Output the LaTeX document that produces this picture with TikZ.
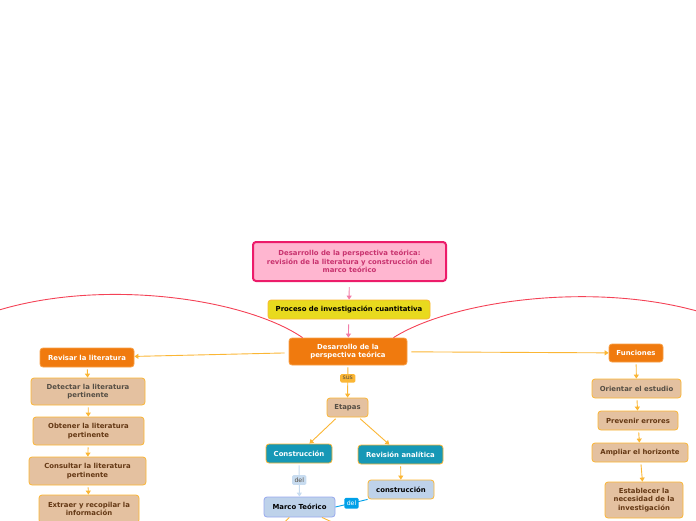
\documentclass[tikz,border=0pt]{standalone}
\usepackage{fontspec}
\setmainfont{DejaVu Sans}
\usetikzlibrary{arrows.meta}

\definecolor{naranja}{RGB}{240,122,14}
\definecolor{naranjaborde}{RGB}{248,160,70}
\definecolor{cafe}{RGB}{228,193,160}
\definecolor{amarillo}{RGB}{251,182,52}
\definecolor{turquesa}{RGB}{22,152,182}
\definecolor{celeste}{RGB}{190,210,234}
\definecolor{celestelin}{RGB}{200,220,240}
\definecolor{azul}{RGB}{0,160,232}
\definecolor{limon}{RGB}{232,218,30}
\definecolor{rosa}{RGB}{255,182,208}
\definecolor{rosaborde}{RGB}{236,28,106}
\definecolor{rosatexto}{RGB}{200,50,110}
\definecolor{rosaflecha}{RGB}{242,125,168}
\definecolor{rojo}{RGB}{244,66,86}
\definecolor{grisc}{RGB}{85,78,68}
\definecolor{marron}{RGB}{100,56,20}

\begin{document}
\begin{tikzpicture}[
  x=1pt, y=1pt,
  font=\fontsize{6.9}{8.5}\selectfont\bfseries,
  box/.style={draw, rounded corners=3pt, inner sep=1pt, align=center, line width=0.8pt},
  main/.style={box, fill=naranja, draw=naranjaborde, text=white},
  tan/.style={box, fill=cafe, draw=amarillo, text=marron},
  teal/.style={box, fill=turquesa, draw=amarillo, text=white},
  sky/.style={box, fill=celeste, draw=celeste!80!blue, text=black},
  lbl/.style={rounded corners=1.5pt, inner xsep=2.5pt, inner ysep=2.5pt, font=\fontsize{6.2}{7}\selectfont},
  arr/.style={-{Triangle[width=5pt,length=4pt]}, line width=0.9pt, draw=amarillo, shorten <=2pt},
  parr/.style={arr, draw=rosaflecha, shorten <=5pt},
  arc/.style={draw=rojo, line width=0.9pt}
]
\useasboundingbox (0,0) rectangle (696,-520);

% Title
\node[box, fill=rosa, draw=rosaborde, line width=2pt, text=rosatexto,
      minimum width=193pt, minimum height=39pt] (titulo) at (349.5,-261.5)
  {Desarrollo de la perspectiva teórica:\\revisión de la literatura y construcción del\\marco teórico};

% Process
\node[box, fill=limon, draw=amarillo, minimum width=162pt, minimum height=19pt] (proceso) at (349,-309.5)
  {Proceso de investigación cuantitativa};
\node[main, minimum width=118pt, minimum height=27pt] (desarrollo) at (348,-351.5)
  {Desarrollo de la\\perspectiva teórica};

% Stages
\node[tan, text=grisc, minimum width=41pt, minimum height=19pt] (etapas) at (347.5,-407.5) {Etapas};
\node[teal, minimum width=66pt, minimum height=19pt] (construccion) at (299,-453.5) {Construcción};
\node[teal, minimum width=85pt, minimum height=19pt] (revision) at (400.5,-454.5) {Revisión analítica};
\node[sky, minimum width=71pt, minimum height=20pt] (marco) at (299.5,-507) {Marco Teórico};
\node[sky, draw=amarillo, minimum width=66pt, minimum height=19pt] (construccion2) at (401,-489.5) {construcción};

% Left branch
\node[main, minimum width=94pt, minimum height=19pt] (revisar) at (87,-357.5) {Revisar la literatura};
\node[tan, text=grisc, minimum width=114pt, minimum height=27pt] (detectar) at (88,-391.5)
  {Detectar la literatura\\pertinente};
\node[tan, minimum width=111pt, minimum height=28pt] (obtener) at (88.5,-431)
  {Obtener la literatura\\pertinente};
\node[tan, minimum width=117pt, minimum height=28pt] (consultar) at (87.5,-471)
  {Consultar la literatura\\pertinente};
\node[tan, minimum width=100pt, minimum height=28pt] (extraer) at (89,-509)
  {Extraer y recopilar la\\información};

% Right branch
\node[main, minimum width=54pt, minimum height=18pt] (funciones) at (636,-353) {Funciones};
\node[tan, text=grisc, minimum width=89pt, minimum height=19pt] (orientar) at (636.5,-388.5) {Orientar el estudio};
\node[tan, minimum width=80pt, minimum height=19pt] (prevenir) at (638,-420.5) {Prevenir errores};
\node[tan, minimum width=96pt, minimum height=19pt] (ampliar) at (640,-452.5) {Ampliar el horizonte};
\node[tan, minimum width=78pt, minimum height=36pt] (establecer) at (644,-500)
  {Establecer la\\necesidad de la\\investigación};

% Loose ends
\coordinate (arcL) at (-80,-350);
\coordinate (arcR) at (779,-350);
\coordinate (bajoL) at (262,-545);
\coordinate (bajoR) at (360,-535);

% Arrows
\draw[parr] (titulo) -- (proceso);
\draw[parr] (proceso) -- (desarrollo);
\draw[arr, shorten <=4pt] (desarrollo) -- (revisar);
\draw[arr, shorten <=4pt] (desarrollo) -- (funciones);
\draw[arr] (desarrollo) -- node[lbl, pos=0.4, fill=amarillo, text=grisc] (sus) {sus} (etapas);
\draw[arr] (etapas) -- (construccion);
\draw[arr] (etapas) -- (revision);
\draw[arr, draw=celestelin] (construccion) -- node[lbl, fill=celestelin, text=grisc] (del1) {del} (marco);
\draw[arr] (revision) -- (construccion2);
\draw[azul, line width=0.9pt] (construccion2.south west) -- node[lbl, fill=azul, text=white, inner ysep=3pt] (del2) {del} (marco.east);
\draw[amarillo, line width=0.9pt] (marco) -- (bajoL);
\draw[amarillo, line width=0.9pt] (marco) -- (bajoR);

\draw[arr] (revisar) -- (detectar);
\draw[arr] (detectar) -- (obtener);
\draw[arr] (obtener) -- (consultar);
\draw[arr] (consultar) -- (extraer);

\draw[arr] (funciones) -- (orientar);
\draw[arr] (orientar) -- (prevenir);
\draw[arr] (prevenir) -- (ampliar);
\draw[arr] (ampliar) -- (establecer);

% Relations
\draw[arc] (desarrollo.163) .. controls (230,-288) and (20,-268) .. (arcL);
\draw[arc] (desarrollo.17) .. controls (469,-290) and (679,-272) .. (arcR);
\end{tikzpicture}
\end{document}
